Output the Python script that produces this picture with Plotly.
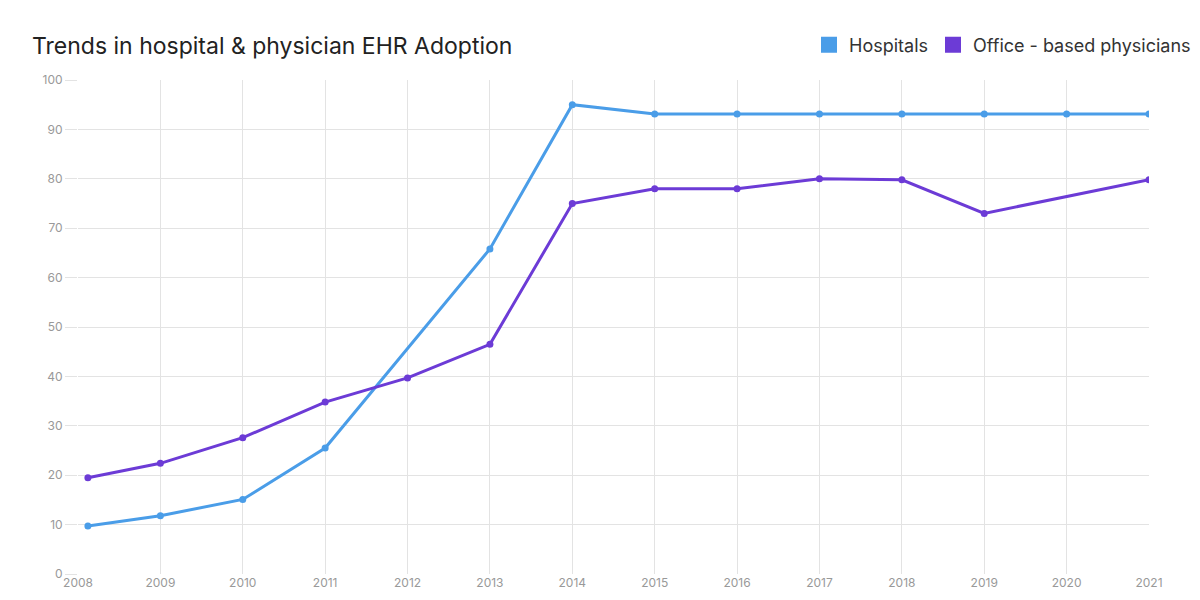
import plotly.graph_objects as go

years = [2008.12, 2009, 2010, 2011, 2012, 2013, 2014, 2015, 2016, 2017, 2018, 2019, 2020, 2021]
hospitals = [9.7, 11.8, 15.1, 25.5, None, 65.8, 95.0, 93.1, 93.1, 93.1, 93.1, 93.1, 93.1, 93.1]
physicians = [19.5, 22.4, 27.6, 34.8, 39.7, 46.5, 75.0, 78.0, 78.0, 80.0, 79.8, 73.0, None, 79.8]
tick_years = list(range(2008, 2022))

blue = '#4a9de8'
purple = '#6c3bd6'

fig = go.Figure()
for name, vals, color in [('Hospitals', hospitals, blue), ('Office - based physicians', physicians, purple)]:
    fig.add_trace(go.Scatter(x=years, y=vals, mode='lines+markers', connectgaps=True,
                             line=dict(color=color, width=3), marker=dict(color=color, size=7),
                             showlegend=False, hoverinfo='skip'))
    # legend swatch
    fig.add_trace(go.Scatter(x=[None], y=[None], mode='markers', name=name,
                             marker=dict(color=color, size=24, symbol='square')))

fig.update_layout(
    width=1200, height=600,
    paper_bgcolor='white', plot_bgcolor='white',
    margin=dict(l=70, r=59, t=72, b=34, autoexpand=False),
    font=dict(family='Inter', color='#999999', size=12),
    title=dict(text='Trends in hospital & physician EHR Adoption', x=0.02, xanchor='left',
               y=1 - 38 / 600, yanchor='middle', yref='container',
               font=dict(family='Inter', size=23, color='#222222')),
    legend=dict(orientation='h', x=0.99, xanchor='right', xref='container',
                y=1 - 37 / 600, yanchor='middle', yref='container',
                font=dict(family='Inter', size=18, color='#333333')),
    xaxis=dict(range=[2008, 2021], tickvals=tick_years, showgrid=True, gridcolor='#e3e3e3',
               zeroline=False, showline=False, ticks='', tickfont=dict(size=12), automargin=False),
    yaxis=dict(range=[0, 100], dtick=10, showgrid=True, gridcolor='#e3e3e3', zeroline=False,
               ticks='outside', ticklen=12, tickcolor='#e3e3e3', tickfont=dict(size=12),
               automargin=False),
)

fig.write_html('out.html')
